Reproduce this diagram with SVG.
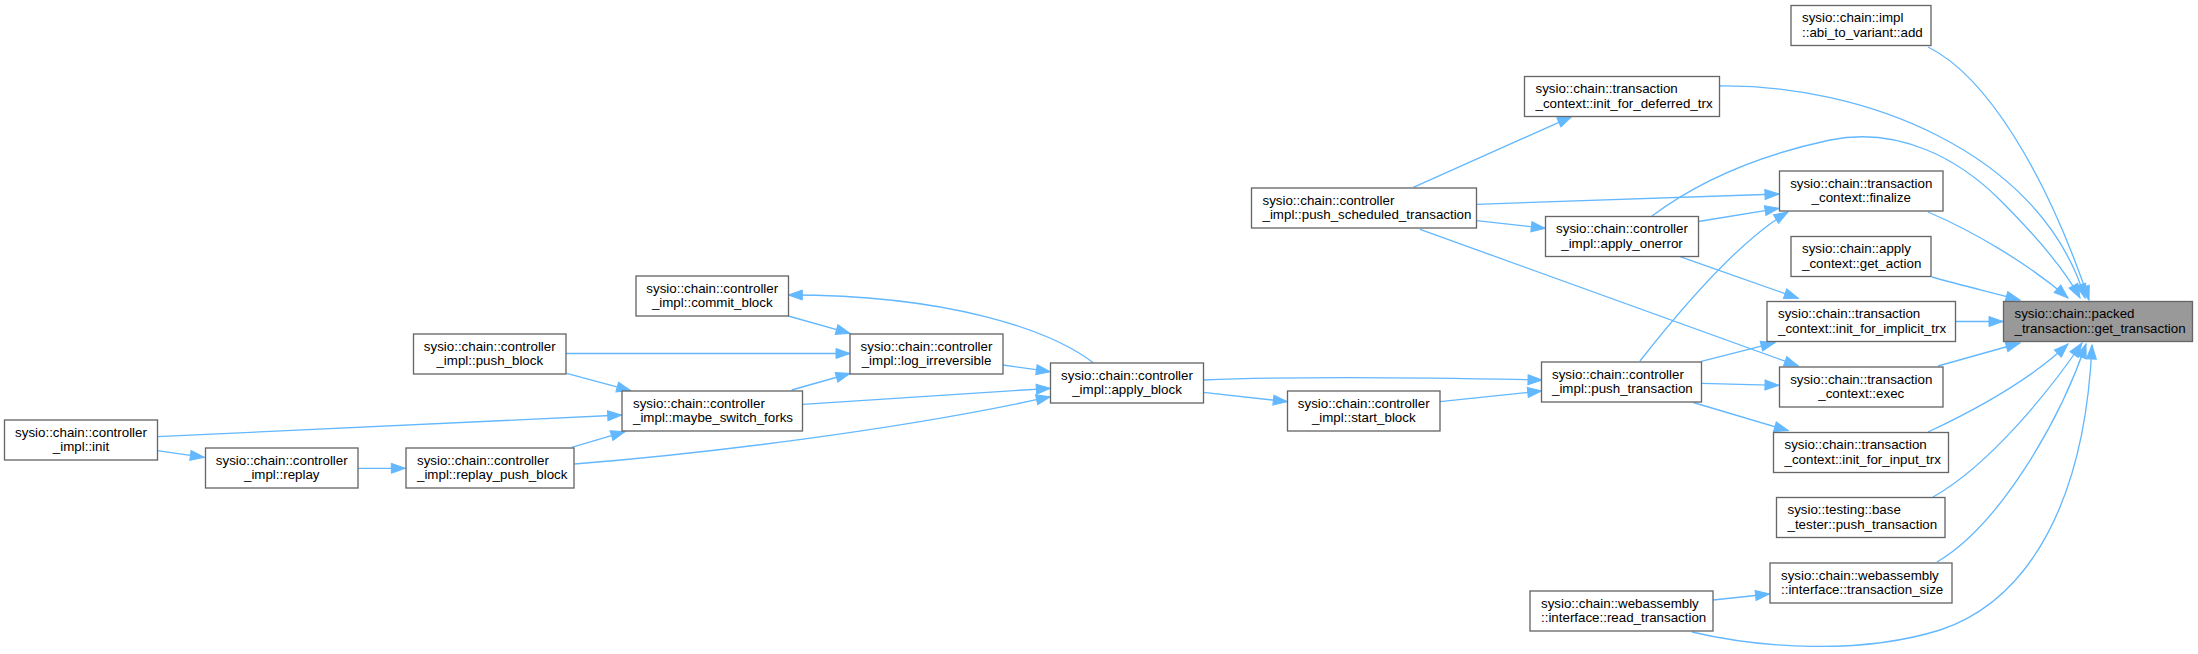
<svg xmlns="http://www.w3.org/2000/svg" width="2198" height="654" viewBox="0 0 2198 654">
<style>
.node rect{fill:#ffffff;stroke:#666666;stroke-width:1.33}
.node.root rect{fill:#999999}
.node text{font-family:"Liberation Sans",Arial,Helvetica,sans-serif;font-size:13.33px;fill:#000000}
.s{text-anchor:start}
.m{text-anchor:middle}
.edges path{fill:none;stroke:#63b8ff;stroke-width:1.33}
</style>
<defs>
<marker id="ah" markerUnits="userSpaceOnUse" markerWidth="16" markerHeight="12" refX="14" refY="5" orient="auto" overflow="visible">
<path d="M0,0 L14,5 L0,10 z" fill="#63b8ff" stroke="#63b8ff" stroke-width="1"/>
</marker>
</defs>
<rect x="0" y="0" width="2198" height="654" fill="#ffffff"/>
<g class="edges">
<path marker-end="url(#ah)" d="M1928,47 C1985,75 2045,170 2089,300"/>
<path marker-end="url(#ah)" d="M1719,86 C1860,84 2040,150 2085,298"/>
<path marker-end="url(#ah)" d="M1652,216 C1700,180 1760,155 1830,140 C1900,126 1960,160 2000,200 C2040,240 2065,270 2080,298"/>
<path marker-end="url(#ah)" d="M1928,212 C1975,232 2030,265 2068,298"/>
<path marker-end="url(#ah)" d="M1932,277 C1960,285 1990,292 2020,300"/>
<path marker-end="url(#ah)" d="M1955,321.5 L2003,321.5"/>
<path marker-end="url(#ah)" d="M1938,366 L2020,343"/>
<path marker-end="url(#ah)" d="M1928,432 C1975,410 2030,380 2068,344"/>
<path marker-end="url(#ah)" d="M1933,497 C1990,465 2050,390 2082,343"/>
<path marker-end="url(#ah)" d="M1937,562 C2000,525 2060,420 2086,344"/>
<path marker-end="url(#ah)" d="M1692,632 C1760,648 1860,655 1940,630 C2030,600 2085,500 2092,345"/>
<path marker-end="url(#ah)" d="M1713,600 L1769.5,594"/>
<path marker-end="url(#ah)" d="M1476.7,204.3 L1779,194"/>
<path marker-end="url(#ah)" d="M1698.3,221.5 L1779,208.3"/>
<path marker-end="url(#ah)" d="M1640,361 C1680,310 1740,240 1788,212"/>
<path marker-end="url(#ah)" d="M1413.3,187.3 L1571.7,116.7"/>
<path marker-end="url(#ah)" d="M1476.7,220.7 L1545.3,228.3"/>
<path marker-end="url(#ah)" d="M1420,229.3 L1798.3,366"/>
<path marker-end="url(#ah)" d="M1680,256.7 L1798.3,298.3"/>
<path marker-end="url(#ah)" d="M1701.3,361.3 L1775,342.7"/>
<path marker-end="url(#ah)" d="M1701.3,383.3 L1779,385.3"/>
<path marker-end="url(#ah)" d="M1693.3,402.5 L1788.3,430.7"/>
<path marker-end="url(#ah)" d="M1203,380 C1300,376 1450,378 1542,380"/>
<path marker-end="url(#ah)" d="M1203.3,392.3 L1287.3,401.7"/>
<path marker-end="url(#ah)" d="M1440,401.7 L1541.7,391"/>
<path marker-end="url(#ah)" d="M1093.3,362.7 C1050,330 950,295 788.3,295"/>
<path marker-end="url(#ah)" d="M788.3,316 L850,333.3"/>
<path marker-end="url(#ah)" d="M566,353.5 L850,353.5"/>
<path marker-end="url(#ah)" d="M791.7,390 L850,373.5"/>
<path marker-end="url(#ah)" d="M1002.7,365 L1050.3,371.7"/>
<path marker-end="url(#ah)" d="M802.7,404.3 L1050.3,388.3"/>
<path marker-end="url(#ah)" d="M574.3,464 C700,454 900,430 1050.3,396.7"/>
<path marker-end="url(#ah)" d="M566.7,373.3 L630.7,390.7"/>
<path marker-end="url(#ah)" d="M157.3,436.7 L621.7,415"/>
<path marker-end="url(#ah)" d="M571.7,447.3 L625,431.7"/>
<path marker-end="url(#ah)" d="M157.3,450.7 L204.3,457.3"/>
<path marker-end="url(#ah)" d="M358,468.3 L405.3,468.3"/>
</g>
<g id="n_abi_add" class="node"><rect x="1791" y="5.5" width="140" height="40"/><text class="s" x="1802" y="22">sysio::chain::impl</text><text class="s" x="1802" y="36.5">::abi_to_variant::add</text></g>
<g id="n_init_for_deferred_trx" class="node"><rect x="1524.5" y="76.5" width="195" height="40"/><text class="s" x="1535.5" y="93">sysio::chain::transaction</text><text class="s" x="1535.5" y="107.5">_context::init_for_deferred_trx</text></g>
<g id="n_push_scheduled_transaction" class="node"><rect x="1251.5" y="188" width="225" height="40"/><text class="s" x="1262.5" y="204.5">sysio::chain::controller</text><text class="s" x="1262.5" y="219">_impl::push_scheduled_transaction</text></g>
<g id="n_finalize" class="node"><rect x="1779.5" y="171" width="163.5" height="40"/><text class="m" x="1861.25" y="187.5">sysio::chain::transaction</text><text class="m" x="1861.25" y="202">_context::finalize</text></g>
<g id="n_apply_onerror" class="node"><rect x="1545.5" y="216.5" width="153" height="40"/><text class="m" x="1622" y="233">sysio::chain::controller</text><text class="m" x="1622" y="247.5">_impl::apply_onerror</text></g>
<g id="n_get_action" class="node"><rect x="1791" y="236.5" width="140" height="40"/><text class="s" x="1802" y="253">sysio::chain::apply</text><text class="s" x="1802" y="267.5">_context::get_action</text></g>
<g id="n_init_for_implicit_trx" class="node"><rect x="1767" y="301.5" width="188.5" height="40"/><text class="s" x="1778" y="318">sysio::chain::transaction</text><text class="s" x="1778" y="332.5">_context::init_for_implicit_trx</text></g>
<g id="n_get_transaction" class="node root"><rect x="2003.5" y="301.5" width="189" height="40"/><text class="s" x="2014.5" y="318">sysio::chain::packed</text><text class="s" x="2014.5" y="332.5">_transaction::get_transaction</text></g>
<g id="n_exec" class="node"><rect x="1779.5" y="367" width="163.5" height="40"/><text class="m" x="1861.25" y="383.5">sysio::chain::transaction</text><text class="m" x="1861.25" y="398">_context::exec</text></g>
<g id="n_push_transaction" class="node"><rect x="1541.5" y="362" width="160" height="40"/><text class="s" x="1552" y="378.5">sysio::chain::controller</text><text class="s" x="1552" y="393">_impl::push_transaction</text></g>
<g id="n_start_block" class="node"><rect x="1287.5" y="391" width="152.5" height="40"/><text class="m" x="1363.75" y="407.5">sysio::chain::controller</text><text class="m" x="1363.75" y="422">_impl::start_block</text></g>
<g id="n_apply_block" class="node"><rect x="1050.5" y="363" width="153" height="40"/><text class="m" x="1127" y="379.5">sysio::chain::controller</text><text class="m" x="1127" y="394">_impl::apply_block</text></g>
<g id="n_commit_block" class="node"><rect x="636" y="276" width="152.5" height="40"/><text class="m" x="712.25" y="292.5">sysio::chain::controller</text><text class="m" x="712.25" y="307">_impl::commit_block</text></g>
<g id="n_log_irreversible" class="node"><rect x="850" y="334" width="153" height="40"/><text class="m" x="926.5" y="350.5">sysio::chain::controller</text><text class="m" x="926.5" y="365">_impl::log_irreversible</text></g>
<g id="n_push_block" class="node"><rect x="413.5" y="334" width="152.5" height="40"/><text class="m" x="489.75" y="350.5">sysio::chain::controller</text><text class="m" x="489.75" y="365">_impl::push_block</text></g>
<g id="n_maybe_switch_forks" class="node"><rect x="622" y="391" width="180.5" height="40"/><text class="s" x="633" y="407.5">sysio::chain::controller</text><text class="s" x="633" y="422">_impl::maybe_switch_forks</text></g>
<g id="n_init" class="node"><rect x="4.5" y="420" width="153" height="40"/><text class="m" x="81" y="436.5">sysio::chain::controller</text><text class="m" x="81" y="451">_impl::init</text></g>
<g id="n_replay" class="node"><rect x="205.5" y="448" width="152.5" height="40"/><text class="m" x="281.75" y="464.5">sysio::chain::controller</text><text class="m" x="281.75" y="479">_impl::replay</text></g>
<g id="n_replay_push_block" class="node"><rect x="406" y="448" width="168" height="40"/><text class="s" x="417" y="464.5">sysio::chain::controller</text><text class="s" x="417" y="479">_impl::replay_push_block</text></g>
<g id="n_init_for_input_trx" class="node"><rect x="1773.5" y="432.5" width="175" height="40"/><text class="s" x="1784.5" y="449">sysio::chain::transaction</text><text class="s" x="1784.5" y="463.5">_context::init_for_input_trx</text></g>
<g id="n_base_tester_push_transaction" class="node"><rect x="1776.5" y="497.5" width="168.5" height="40"/><text class="s" x="1787.5" y="514">sysio::testing::base</text><text class="s" x="1787.5" y="528.5">_tester::push_transaction</text></g>
<g id="n_transaction_size" class="node"><rect x="1770" y="563" width="182" height="40"/><text class="s" x="1781" y="579.5">sysio::chain::webassembly</text><text class="s" x="1781" y="594">::interface::transaction_size</text></g>
<g id="n_read_transaction" class="node"><rect x="1530" y="591" width="183" height="40"/><text class="s" x="1541" y="607.5">sysio::chain::webassembly</text><text class="s" x="1541" y="622">::interface::read_transaction</text></g>
</svg>
